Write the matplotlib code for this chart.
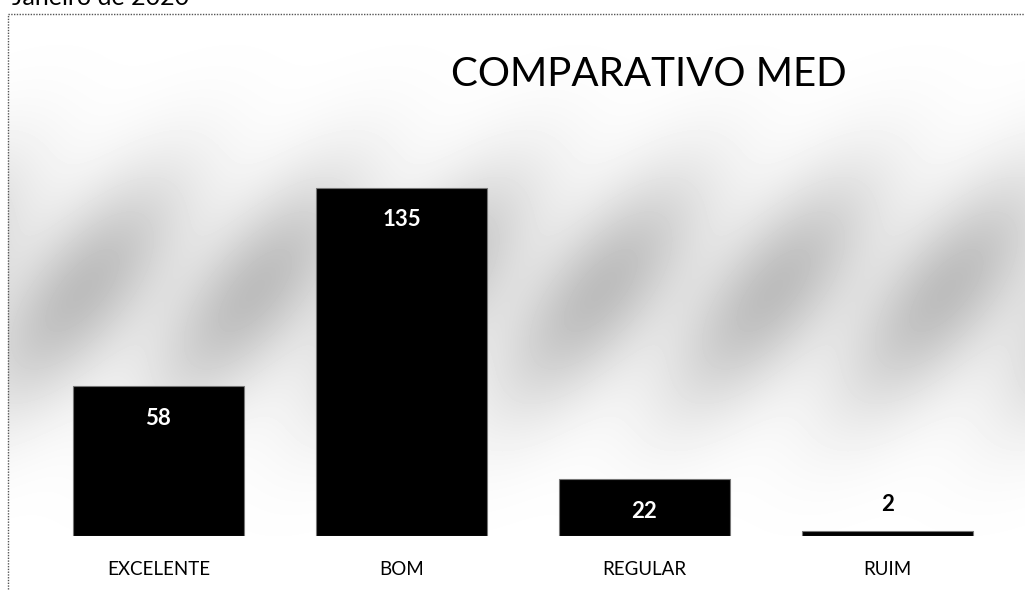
import numpy as np
import matplotlib
matplotlib.use("Agg")
import matplotlib.pyplot as plt
from matplotlib.patches import Rectangle

categories = ["EXCELENTE", "BOM", "REGULAR", "RUIM"]
values = [58, 135, 22, 2]
title = "COMPARATIVO MED"
header = "Janeiro de 2020"

plt.rcParams['font.family'] = ['Lato', 'DejaVu Sans']

fig = plt.figure(figsize=(10.25, 5.9), dpi=100)
W, H = 1025, 590

# soft grey band behind the chart (stands in for the scanned texture)
bg = fig.add_axes([0, 0, 1, 1], zorder=0)
yy, xx = np.mgrid[0:H, 0:W]
band = np.exp(-((yy - 290) / 120.0) ** 2)
wave = 0.5 + 0.5 * np.sin(xx / 55.0 + yy / 90.0) ** 2
shade = 1 - 0.26 * band * wave
shade[:14, :] = 1
shade[:, :8] = 1
bg.imshow(shade, cmap="gray", vmin=0, vmax=1, aspect="auto", interpolation="bilinear")
bg.axis("off")

# dotted frame
fig.patches.append(Rectangle((8 / W, -0.05), 1.1, 1 - 14 / H + 0.05, transform=fig.transFigure,
                             fill=False, edgecolor="#555555", linestyle=(0, (1, 1)), linewidth=1))

ax = fig.add_axes([37 / W, 54 / H, 972 / W, 413 / H], zorder=1)
ax.patch.set_alpha(0)
x = np.arange(len(categories))
ax.bar(x, values, width=0.7, color="black", edgecolor="#777777", linewidth=0.8)
ax.set_xlim(-0.5, len(categories) - 0.5)
ax.set_ylim(0, 160)

for xi, v in zip(x, values):
    if v > 10:
        ax.annotate(str(v), (xi, v), xytext=(0, -32), textcoords="offset pixels",
                    ha="center", va="center", color="white", fontsize=16, fontweight="bold")
    else:
        ax.annotate(str(v), (xi, v), xytext=(0, 26), textcoords="offset pixels",
                    ha="center", va="center", color="black", fontsize=16, fontweight="bold")

ax.set_xticks(x)
ax.set_xticklabels(categories, fontsize=13.5)
ax.tick_params(axis="x", length=0, pad=18)
ax.set_yticks([])
for s in ax.spines.values():
    s.set_visible(False)

fig.text(649 / W, 1 - 75 / H, title, ha="center", va="center", fontsize=29)
fig.text(12 / W, 1 - 9 / H, header, ha="left", va="bottom", fontsize=18)

fig.savefig("out.png", dpi=100)
